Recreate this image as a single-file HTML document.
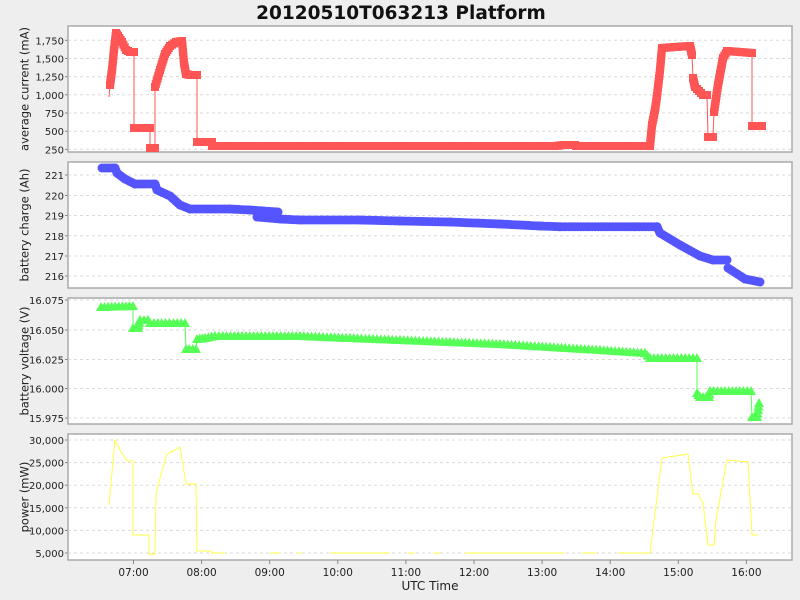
<!DOCTYPE html>
<html><head><meta charset="utf-8"><style>
body{margin:0;background:#eeeeee;}
svg{display:block;font-family:"DejaVu Sans","Liberation Sans",sans-serif;}
</style></head><body>
<svg id="s" width="800" height="600" xmlns="http://www.w3.org/2000/svg">
<rect width="800" height="600" fill="#eeeeee"/>
<text x="401" y="19" text-anchor="middle" font-size="18.5" font-weight="bold" fill="#111">20120510T063213 Platform</text>
<g id="g"></g>
</svg>
<script>
const NS="http://www.w3.org/2000/svg",g=document.getElementById('g');
function el(t,a,txt){const e=document.createElementNS(NS,t);for(const k in a)e.setAttribute(k,a[k]);if(txt!=null)e.textContent=txt;g.appendChild(e);return e;}
const X0=68,X1=792;
const panels=[
 {t:26,b:152,label:"average current (mA)",ticks:[["1,750",40.3],["1,500",58.5],["1,250",76.7],["1,000",94.8],["750",113],["500",131.2],["250",149.3]]},
 {t:162,b:288,label:"battery charge (Ah)",ticks:[["221",175],["220",195.5],["219",215.5],["218",235.8],["217",256],["216",276]]},
 {t:298,b:424,label:"battery voltage (V)",ticks:[["16.075",300],["16.050",330],["16.025",359.5],["16.000",388.5],["15.975",418]]},
 {t:434,b:560,label:"power (mW)",ticks:[["30,000",440],["25,000",462.6],["20,000",485.2],["15,000",507.8],["10,000",530.4],["5,000",553]]}
];
panels.forEach(p=>{
 el('rect',{x:X0,y:p.t,width:X1-X0,height:p.b-p.t,fill:'#fff',stroke:'#aaa','stroke-width':1.5});
 p.ticks.forEach(([l,y])=>{
  el('line',{x1:X0,x2:X1,y1:y,y2:y,stroke:'#dadada','stroke-dasharray':'3,3'});
  el('line',{x1:X0-3,x2:X0,y1:y,y2:y,stroke:'#888'});
  el('text',{x:X0-4,y:y+4,'text-anchor':'end','font-size':10,fill:'#222'},l);
 });
 const cy=(p.t+p.b)/2;
 el('text',{x:0,y:0,transform:`translate(28.5,${cy}) rotate(-90)`,'text-anchor':'middle','font-size':11.5,fill:'#222'},p.label);
});
for(let h=7;h<=16;h++){const x=133.5+(h-7)*68.1;
 el('line',{x1:x,x2:x,y1:560,y2:564,stroke:'#888'});
 el('text',{x:x,y:576,'text-anchor':'middle','font-size':10.5,fill:'#222'},(h<10?'0':'')+h+':00');}
el('text',{x:430,y:590,'text-anchor':'middle','font-size':12,fill:'#222'},'UTC Time');
function interp(pts,step){const out=[];for(let i=0;i<pts.length-1;i++){const[a,b]=[pts[i],pts[i+1]];if(Math.abs(b[0]-a[0])<1.5&&Math.abs(b[1]-a[1])>6)continue;const d=Math.hypot(b[0]-a[0],b[1]-a[1]);const n=Math.max(1,Math.ceil(d/step));for(let k=0;k<=n;k++)out.push([a[0]+(b[0]-a[0])*k/n,a[1]+(b[1]-a[1])*k/n]);}return out;}
function line(pts,c,w){el('polyline',{points:pts.map(p=>p.join(',')).join(' '),fill:'none',stroke:c,'stroke-width':w||1});}
const red=[[109,97],[110,85],[112,70],[114,50],[116,33],[118,36],[122,42],[126,50],[130,52],[134,52],[134,128],[150,128],[150,148],[155,148],[155,87],[160,70],[165,54],[170,46],[176,42],[182,41],[184,63],[186,74],[190,75],[197,75],[197,142],[212,142],[212,146],[555,146],[564,145],[575,145],[576,146],[650,146],[652,125],[655,110],[657,96],[660,70],[662,48],[675,47],[690,46],[692,55],[693,78],[695,87],[703,95],[707,95],[708,137],[713,137],[714,112],[718,85],[723,58],[727,51],[740,52],[752,53],[752,126],[762,126]];
line(red,'#ff5555');
interp(red,3).forEach(p=>el('rect',{x:p[0]-4,y:p[1]-4,width:8,height:8,fill:'#ff5555'}));
const blueA=[[102,168],[115,168],[117,173],[125,179],[135,184],[155,184],[157,190],[170,196],[180,205],[190,209],[230,209],[250,210],[278,212]];
const blueB=[[257,217],[280,219],[300,220],[360,220],[400,221],[450,222],[500,224],[540,226],[560,226.7],[657,226.7],[660,233],[680,245],[700,256],[713,260],[727,260]];
const blueC=[[728,268],[745,279],[760,282]];
[blueA,blueB,blueC].forEach(b=>interp(b,3).forEach(p=>el('circle',{cx:p[0],cy:p[1],r:4.5,fill:'#5555ff'})));
const gr=[[101,307],[133,306],[133,328],[138,328],[140,320],[148,320],[150,323],[185,323],[186,349],[196,349],[197,339],[205,338],[215,336],[300,336],[350,338],[400,340],[450,342],[500,344],[550,347],[600,350],[645,353],[650,358],[697,358],[697,393],[700,397],[709,397],[710,391],[751,391],[752,417],[757,417],[759,403]];
line(gr,'#55ff55');
interp(gr,4).forEach(p=>el('polygon',{points:`${p[0]-5},${p[1]+4} ${p[0]+5},${p[1]+4} ${p[0]},${p[1]-5}`,fill:'#55ff55'}));
line([[109,505],[115,440],[120,450],[127,461],[133,461],[133,535],[149,535],[149,554],[155,554],[156,494],[160,478],[167,454],[177,449],[180,447],[186,484],[196,484],[197,551],[211,551],[212,553],[225,553]],'#ffff44');
[[270,280],[297,302],[330,390],[408,415],[433,440],[465,565],[582,597],[618,650]].forEach(s=>line([[s[0],553],[s[1],553]],'#ffff44'));
line([[650,553],[662,458],[688,454],[693,494],[698,494],[703,503],[708,545],[714,545],[716,520],[727,460],[748,462],[752,535],[758,535]],'#ffff44');
</script>
</body></html>
